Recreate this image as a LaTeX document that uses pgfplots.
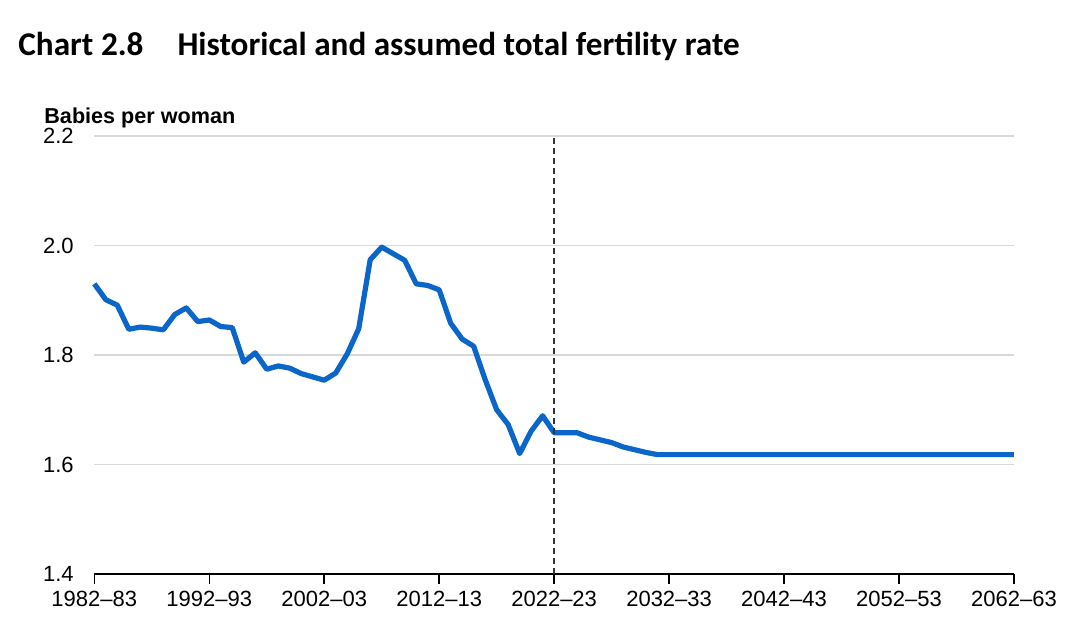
\documentclass[border=0pt]{standalone}
\usepackage{fontspec}
\setmainfont{Liberation Sans}
\newfontfamily\titlefont{Carlito}
\usepackage{pgfplots}
\pgfplotsset{compat=1.18}
\definecolor{lineblue}{HTML}{0A66C8}
\definecolor{gridgray}{HTML}{D9D9D9}
\begin{document}
\begin{tikzpicture}
\useasboundingbox (0pt,0pt) rectangle (540pt,315pt);
\node[anchor=base west, inner sep=0pt] at (9pt,287pt) {\titlefont\bfseries\fontsize{16.6}{20}\selectfont Chart 2.8\hspace{17pt}Historical and assumed total fertility rate};
\node[anchor=base west, inner sep=0pt] at (22pt,253pt) {\bfseries\fontsize{10.8}{12}\selectfont Babies per woman};
\begin{axis}[
  at={(47.15pt,28pt)}, anchor=south west,
  scale only axis, width=459.85pt, height=219pt,
  xmin=1982, xmax=2062, ymin=1.4, ymax=2.2,
  axis x line*=bottom, axis y line*=left,
  x axis line style={-, black, line width=0.75pt},
  y axis line style={draw=none},
  xtick={1982,1992,2002,2012,2022,2032,2042,2052,2062},
  xticklabels={1982–83,1992–93,2002–03,2012–13,2022–23,2032–33,2042–43,2052–53,2062–63},
  ytick={1.4,1.6,1.8,2.0,2.2},
  yticklabel={\pgfmathprintnumber[fixed,fixed zerofill,precision=1]{\tick}},
  /pgf/number format/assume math mode=true,
  tick align=outside, major tick length=5pt,
  xtick style={black, line width=0.75pt},
  ytick style={draw=none},
  ymajorgrids, grid style={gridgray, line width=0.6pt},
  tick label style={font=\fontsize{11}{13}\selectfont},
  yticklabel style={xshift=-1.8pt},
  clip=false,
]
\addplot[lineblue, line width=2.6pt, line join=round, line cap=butt] coordinates {
(1982,1.930) (1983,1.901) (1984,1.891) (1985,1.847) (1986,1.851) (1987,1.849)
(1988,1.846) (1989,1.874) (1990,1.886) (1991,1.861) (1992,1.864) (1993,1.852)
(1994,1.850) (1995,1.787) (1996,1.804) (1997,1.774) (1998,1.780) (1999,1.776)
(2000,1.766) (2001,1.760) (2002,1.754) (2003,1.767) (2004,1.802) (2005,1.848)
(2006,1.974) (2007,1.997) (2008,1.985) (2009,1.973) (2010,1.930) (2011,1.927)
(2012,1.919) (2013,1.858) (2014,1.829) (2015,1.816) (2016,1.755) (2017,1.700)
(2018,1.673) (2019,1.620) (2020,1.661) (2021,1.689) (2022,1.658) (2023,1.658)
(2024,1.658) (2025,1.650) (2026,1.645) (2027,1.640) (2028,1.632) (2029,1.627)
(2030,1.622) (2031,1.618) (2032,1.618) (2037,1.618) (2042,1.618) (2047,1.618)
(2052,1.618) (2057,1.618) (2062,1.618)
};
\addplot[black!80, line width=0.7pt, dash pattern=on 3pt off 2pt] coordinates {(2022,1.4) (2022,2.2)};
\end{axis}
\end{tikzpicture}
\end{document}
